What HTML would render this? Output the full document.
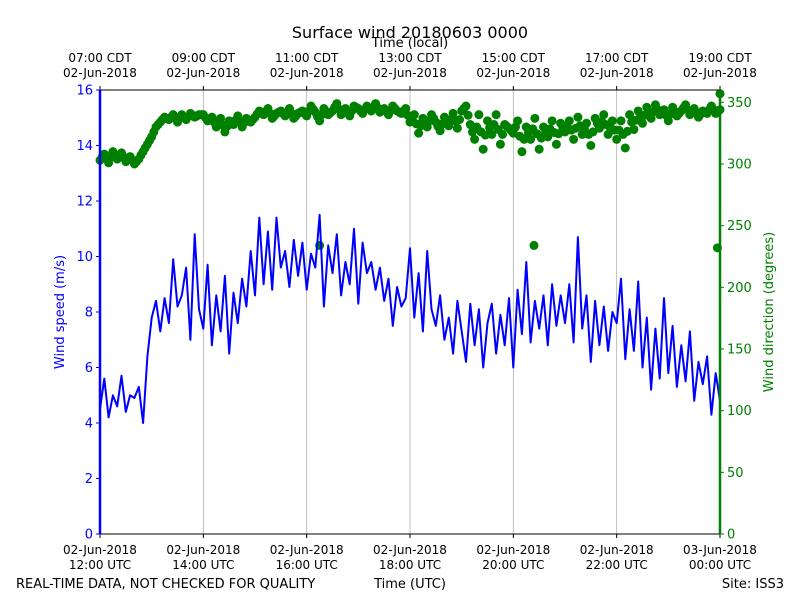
<!DOCTYPE html>
<html><head><meta charset="utf-8"><style>
body{margin:0;background:#fff;}
svg text{font-family:"DejaVu Sans","Liberation Sans",sans-serif;}
</style></head><body>
<svg id="chart" width="800" height="600" viewBox="0 0 800 600" xmlns="http://www.w3.org/2000/svg">
<g id="grid"></g>
<g id="dir"></g>
<g id="spd"></g>
<g id="axes"></g>
<text x="410" y="38" font-size="16" text-anchor="middle">Surface wind 20180603 0000</text>
<text x="410" y="47" font-size="13" text-anchor="middle">Time (local)</text>
<text x="64" y="312" font-size="13" fill="#0000ff" text-anchor="middle" transform="rotate(-90 64 312)">Wind speed (m/s)</text>
<text x="773" y="312" font-size="13" fill="#008000" text-anchor="middle" transform="rotate(-90 773 312)">Wind direction (degrees)</text>
<text x="16" y="588" font-size="13">REAL-TIME DATA, NOT CHECKED FOR QUALITY</text>
<text x="410" y="588" font-size="13" text-anchor="middle">Time (UTC)</text>
<text x="784" y="588" font-size="13" text-anchor="end">Site: ISS3</text>
</svg>
<script>
const speed=[4.5,5.6,4.2,5.0,4.6,5.7,4.4,5.0,4.9,5.3,4.0,6.4,
7.8,8.4,7.3,8.5,7.6,9.9,8.2,8.6,9.6,7.0,10.8,8.1,
7.4,9.7,6.8,8.6,7.3,9.3,6.5,8.7,7.6,9.2,8.2,10.2,
8.6,11.4,9.0,10.9,8.8,11.4,9.6,10.2,8.9,10.6,9.3,10.5,
8.8,10.1,9.6,11.5,8.2,10.4,9.4,10.8,8.6,9.8,9.0,11.0,
8.3,10.5,9.4,9.8,8.8,9.6,8.4,9.2,7.5,8.9,8.2,8.5,
10.3,7.8,9.4,7.3,10.2,8.1,7.5,8.6,7.0,7.8,6.5,8.4,
7.3,6.2,8.3,6.8,8.1,6.0,7.6,8.3,6.5,7.9,6.8,8.5,
6.0,8.8,7.2,9.8,6.9,8.4,7.4,8.6,6.8,9.0,7.5,8.6,
7.6,9.0,6.9,10.7,7.4,8.6,6.2,8.4,6.8,8.2,6.6,8.0,
7.6,9.2,6.3,8.1,6.6,9.1,6.0,7.8,5.2,7.4,5.6,8.5,
5.8,7.5,5.3,6.8,5.5,7.3,4.8,6.2,5.4,6.4,4.3,5.8,4.8];
const direction=[303,308,301,310,304,309,302,306,300,304,310,316,
322,330,334,338,336,340,334,340,336,341,338,340,
340,335,338,330,337,326,335,332,339,330,337,334,
338,343,340,345,337,341,343,339,345,337,341,343,
339,347,342,335,345,340,343,349,340,345,339,347,
345,341,347,343,349,342,345,340,347,343,341,345,
334,340,325,337,330,340,334,327,338,331,341,329,
343,347,332,320,340,312,335,324,340,316,332,329,
325,335,310,330,320,337,312,330,322,335,316,333,
326,335,320,338,324,333,315,337,329,340,324,335,
320,335,313,340,328,343,333,346,337,348,340,344,
335,346,339,343,348,340,345,338,343,341,347,341,344];
const outlierHours=[4.25,8.4,11.95,12.0];
const outlierDir=[234,234,232,357];
const speedTicks=[0,2,4,6,8,10,12,14,16];
const dirTicks=[0,50,100,150,200,250,300,350];
const utcDates=["02-Jun-2018","02-Jun-2018","02-Jun-2018","02-Jun-2018","02-Jun-2018","02-Jun-2018","03-Jun-2018"];
const utcTimes=["12:00 UTC","14:00 UTC","16:00 UTC","18:00 UTC","20:00 UTC","22:00 UTC","00:00 UTC"];
const localTimes=["07:00 CDT","09:00 CDT","11:00 CDT","13:00 CDT","15:00 CDT","17:00 CDT","19:00 CDT"];

const X0=100,X1=720,Y0=534,Y1=90;
const xs=h=>X0+h/12*(X1-X0);
const ys=v=>Y0-v/16*(Y0-Y1);
const yd=d=>Y0-d/360*(Y0-Y1);
const NS="http://www.w3.org/2000/svg";
function mk(tag,attrs,parent,txt){const e=document.createElementNS(NS,tag);for(const k in attrs)e.setAttribute(k,attrs[k]);if(txt!==undefined)e.textContent=txt;parent.appendChild(e);return e;}
const grid=document.getElementById('grid'),axes=document.getElementById('axes'),dirG=document.getElementById('dir'),spdG=document.getElementById('spd');
utcTimes.forEach((t,i)=>{const x=xs(i*2);
 if(i>0&&i<6){const l=mk('line',{x1:x,x2:x,y1:Y1,y2:Y0,stroke:'#b0b0b0','stroke-width':0.8},grid);
 
 }
 mk('line',{x1:x,x2:x,y1:Y0,y2:Y0+4,stroke:'#000'},axes);
 mk('line',{x1:x,x2:x,y1:Y1,y2:Y1-4,stroke:'#000'},axes);
 const a=mk('text',{x:x,y:554,'font-size':12,'text-anchor':'middle'},axes,utcDates[i]);
 
 
 const b=mk('text',{x:x,y:569,'font-size':12,'text-anchor':'middle'},axes,t);
 
 
 const c=mk('text',{x:x,y:62,'font-size':12,'text-anchor':'middle'},axes,localTimes[i]);
 
 
 const d=mk('text',{x:x,y:77,'font-size':12,'text-anchor':'middle'},axes,"02-Jun-2018");
 
 
});
direction.forEach((d,i)=>{const c=mk('circle',{cx:xs(i*12/(direction.length-1)),cy:yd(d),r:4.5,fill:'#008000'},dirG);
 
 });
for(let i=0;i<direction.length-1;i++){const mid=(direction[i]+direction[i+1])/2;
 const c=mk('circle',{cx:xs((i+0.5)*12/(direction.length-1)),cy:yd(mid),r:4.5,fill:'#008000'},dirG);
 
 }
outlierHours.forEach((h,i)=>{const c=mk('circle',{cx:xs(h),cy:yd(outlierDir[i]),r:4.5,fill:'#008000'},dirG);
 
 });
const pts=speed.map((v,i)=>xs(i*12/(speed.length-1)).toFixed(1)+','+ys(v).toFixed(1)).join(' ');
const pl=mk('polyline',{points:pts,fill:'none',stroke:'#0000ff','stroke-width':2,'stroke-linejoin':'round'},spdG);


mk('line',{x1:X0,x2:X1,y1:Y1,y2:Y1,stroke:'#000','stroke-width':1},axes);
mk('line',{x1:X0,x2:X1,y1:Y0,y2:Y0,stroke:'#000','stroke-width':1},axes);
const ls=mk('line',{x1:X0,x2:X0,y1:Y1,y2:Y0,stroke:'#0000ff','stroke-width':2.5},axes);


const rs=mk('line',{x1:X1,x2:X1,y1:Y1,y2:Y0,stroke:'#008000','stroke-width':2.5},axes);


speedTicks.forEach(v=>{const y=ys(v);mk('line',{x1:X0-4,x2:X0,y1:y,y2:y,stroke:'#0000ff'},axes);
 const t=mk('text',{x:X0-7,y:y+4.5,'font-size':13,'text-anchor':'end',fill:'#0000ff'},axes,v);
 
 });
dirTicks.forEach(v=>{const y=yd(v);mk('line',{x1:X1,x2:X1+4,y1:y,y2:y,stroke:'#008000'},axes);
 const t=mk('text',{x:X1+7,y:y+4.5,'font-size':13,'text-anchor':'start',fill:'#008000'},axes,v);
 
 });
</script>
</body></html>
